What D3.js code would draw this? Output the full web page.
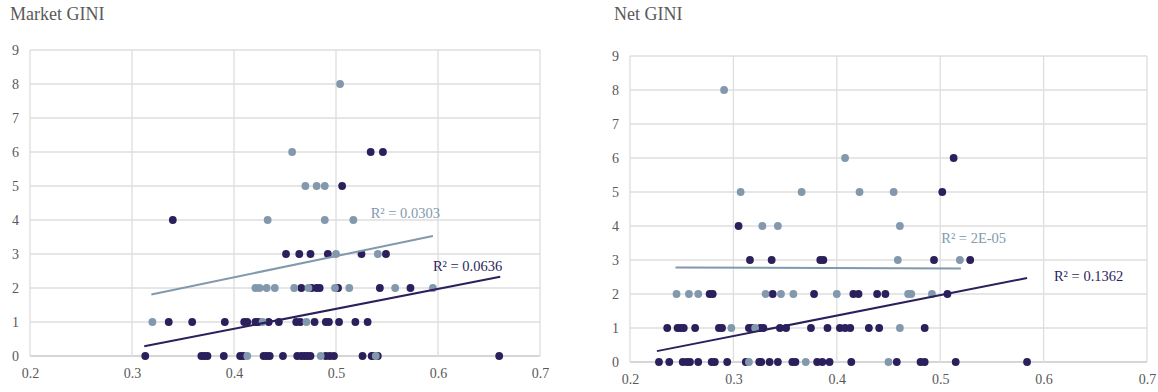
<!DOCTYPE html>
<html>
<head>
<meta charset="utf-8">
<script src="https://cdn.jsdelivr.net/npm/d3@7"></script>
<style>
  body { margin: 0; background: #fff; }
  svg, svg text { font-family: 'Liberation Serif', 'DejaVu Serif', serif; }
</style>
</head>
<body>
<div id="chart"></div>
<script>
// values: [gini, count]
const marketDark = [
  [0.313,0],[0.368,0],[0.371,0],[0.374,0],[0.390,0],[0.406,0],[0.409,0],[0.429,0],[0.432,0],[0.435,0],
  [0.448,0],[0.462,0],[0.466,0],[0.469,0],[0.472,0],[0.475,0],[0.490,0],[0.494,0],[0.498,0],[0.526,0],
  [0.535,0],[0.537,0],[0.541,0],[0.660,0],
  [0.336,1],[0.359,1],[0.391,1],[0.410,1],[0.413,1],[0.421,1],[0.424,1],[0.434,1],[0.444,1],[0.461,1],
  [0.465,1],[0.479,1],[0.490,1],[0.493,1],[0.503,1],[0.519,1],[0.531,1],
  [0.466,2],[0.476,2],[0.481,2],[0.484,2],[0.502,2],[0.543,2],[0.573,2],
  [0.451,3],[0.464,3],[0.475,3],[0.492,3],[0.525,3],[0.549,3],
  [0.340,4],
  [0.506,5],
  [0.534,6],[0.546,6]
];
const marketLight = [
  [0.413,0],[0.485,0],[0.539,0],
  [0.320,1],[0.428,1],[0.471,1],
  [0.421,2],[0.425,2],[0.432,2],[0.440,2],[0.459,2],[0.473,2],[0.499,2],[0.513,2],[0.558,2],[0.595,2],
  [0.500,3],[0.541,3],
  [0.433,4],[0.489,4],[0.517,4],
  [0.470,5],[0.481,5],[0.489,5],
  [0.457,6],
  [0.504,8]
];
const netDark = [
  [0.228,0],[0.238,0],[0.251,0],[0.255,0],[0.258,0],[0.266,0],[0.279,0],[0.282,0],[0.294,0],[0.312,0],
  [0.325,0],[0.327,0],[0.335,0],[0.343,0],[0.357,0],[0.360,0],[0.381,0],[0.386,0],[0.393,0],[0.414,0],
  [0.458,0],[0.481,0],[0.485,0],[0.515,0],[0.584,0],
  [0.236,1],[0.246,1],[0.249,1],[0.252,1],[0.263,1],[0.286,1],[0.289,1],[0.315,1],[0.318,1],[0.326,1],
  [0.329,1],[0.345,1],[0.351,1],[0.375,1],[0.391,1],[0.403,1],[0.408,1],[0.413,1],[0.431,1],[0.441,1],
  [0.485,1],
  [0.277,2],[0.280,2],[0.338,2],[0.378,2],[0.416,2],[0.421,2],[0.439,2],[0.447,2],[0.507,2],
  [0.316,3],[0.337,3],[0.384,3],[0.387,3],[0.494,3],[0.529,3],
  [0.305,4],
  [0.502,5],
  [0.513,6]
];
const netLight = [
  [0.315,0],[0.370,0],[0.450,0],
  [0.298,1],[0.321,1],[0.461,1],
  [0.245,2],[0.257,2],[0.266,2],[0.331,2],[0.346,2],[0.358,2],[0.400,2],[0.469,2],[0.472,2],[0.492,2],
  [0.459,3],[0.519,3],
  [0.328,4],[0.343,4],[0.461,4],
  [0.307,5],[0.366,5],[0.422,5],[0.455,5],
  [0.408,6],
  [0.291,8]
];

// trendline end points and R² labels
const marketTrendLight = [[0.319, 1.81], [0.595, 3.53]];
const marketTrendDark = [[0.312, 0.285], [0.661, 2.33]];
const netTrendLight = [[0.244, 2.78], [0.520, 2.75]];
const netTrendDark = [[0.226, 0.32], [0.584, 2.47]];
const marketLabels = ["R² = 0.0303", "R² = 0.0636"];
const netLabels = ["R² = 2E-05", "R² = 0.1362"];
const titles = ["Market GINI", "Net GINI"];

const xTicks = [0.2, 0.3, 0.4, 0.5, 0.6, 0.7];
const yTicks = [0, 1, 2, 3, 4, 5, 6, 7, 8, 9];

const DARK = "#2b1f5c";
const LIGHT = "#8299ad";
const TEXT = "#595959";
const FONT = "'Liberation Serif', 'DejaVu Serif', serif";

const svg = d3.select("#chart").append("svg")
  .attr("width", 1158)
  .attr("height", 392)
  .attr("font-family", FONT);

const panels = [
  { title: titles[0], titleX: 10, x0: 30, x1: 540, y0: 356, y1: 50,
    dark: marketDark, light: marketLight, tLight: marketTrendLight, tDark: marketTrendDark,
    labels: marketLabels, labLight: [0.534, 4.21], labDark: [0.595, 2.64] },
  { title: titles[1], titleX: 614, x0: 630, x1: 1147, y0: 362, y1: 56,
    dark: netDark, light: netLight, tLight: netTrendLight, tDark: netTrendDark,
    labels: netLabels, labLight: [0.501, 3.66], labDark: [0.610, 2.52] }
];

panels.forEach(p => {
  const x = d3.scaleLinear().domain([0.2, 0.7]).range([p.x0, p.x1]);
  const y = d3.scaleLinear().domain([0, 9]).range([p.y0, p.y1]);
  const g = svg.append("g");

  g.append("text")
    .attr("x", p.titleX).attr("y", 20)
    .attr("fill", TEXT)
    .attr("font-size", 18)
    .text(p.title);

  // grid
  g.append("g").selectAll("line")
    .data(yTicks)
    .join("line")
      .attr("x1", p.x0).attr("x2", p.x1)
      .attr("y1", d => y(d)).attr("y2", d => y(d))
      .attr("stroke", d => d === 0 ? "#c8c8c8" : "#dedede")
      .attr("stroke-width", 1.3);

  g.append("g").selectAll("line")
    .data(xTicks)
    .join("line")
      .attr("x1", d => x(d)).attr("x2", d => x(d))
      .attr("y1", p.y0).attr("y2", p.y1)
      .attr("stroke", "#dedede")
      .attr("stroke-width", 1.3);

  // axes (labels only)
  const ax = g.append("g")
    .attr("transform", `translate(0,${p.y0})`)
    .call(d3.axisBottom(x).tickValues(xTicks).tickSize(0).tickPadding(12).tickFormat(d3.format(".1f")));
  const ay = g.append("g")
    .attr("transform", `translate(${p.x0},0)`)
    .call(d3.axisLeft(y).tickValues(yTicks).tickSize(0).tickPadding(11));
  [ax, ay].forEach(a => {
    a.attr("font-family", FONT).attr("font-size", 14);
    a.select(".domain").remove();
    a.selectAll("text").attr("fill", TEXT);
  });

  // points
  g.append("g").selectAll("circle")
    .data(p.dark)
    .join("circle")
      .attr("cx", d => x(d[0]))
      .attr("cy", d => y(d[1]))
      .attr("r", 3.9)
      .attr("fill", DARK);

  g.append("g").selectAll("circle")
    .data(p.light)
    .join("circle")
      .attr("cx", d => x(d[0]))
      .attr("cy", d => y(d[1]))
      .attr("r", 3.9)
      .attr("fill", LIGHT);

  // trendlines
  const line = d3.line().x(d => x(d[0])).y(d => y(d[1]));
  g.append("path").datum(p.tLight)
    .attr("d", line).attr("fill", "none")
    .attr("stroke", LIGHT).attr("stroke-width", 2);
  g.append("path").datum(p.tDark)
    .attr("d", line).attr("fill", "none")
    .attr("stroke", DARK).attr("stroke-width", 2);

  g.append("text")
    .attr("x", x(p.labLight[0])).attr("y", y(p.labLight[1]))
    .attr("dy", "0.35em")
    .attr("fill", LIGHT)
    .attr("font-size", 14.5)
    .text(p.labels[0]);
  g.append("text")
    .attr("x", x(p.labDark[0])).attr("y", y(p.labDark[1]))
    .attr("dy", "0.35em")
    .attr("fill", DARK)
    .attr("font-size", 14.5)
    .text(p.labels[1]);
});
</script>
</body>
</html>
